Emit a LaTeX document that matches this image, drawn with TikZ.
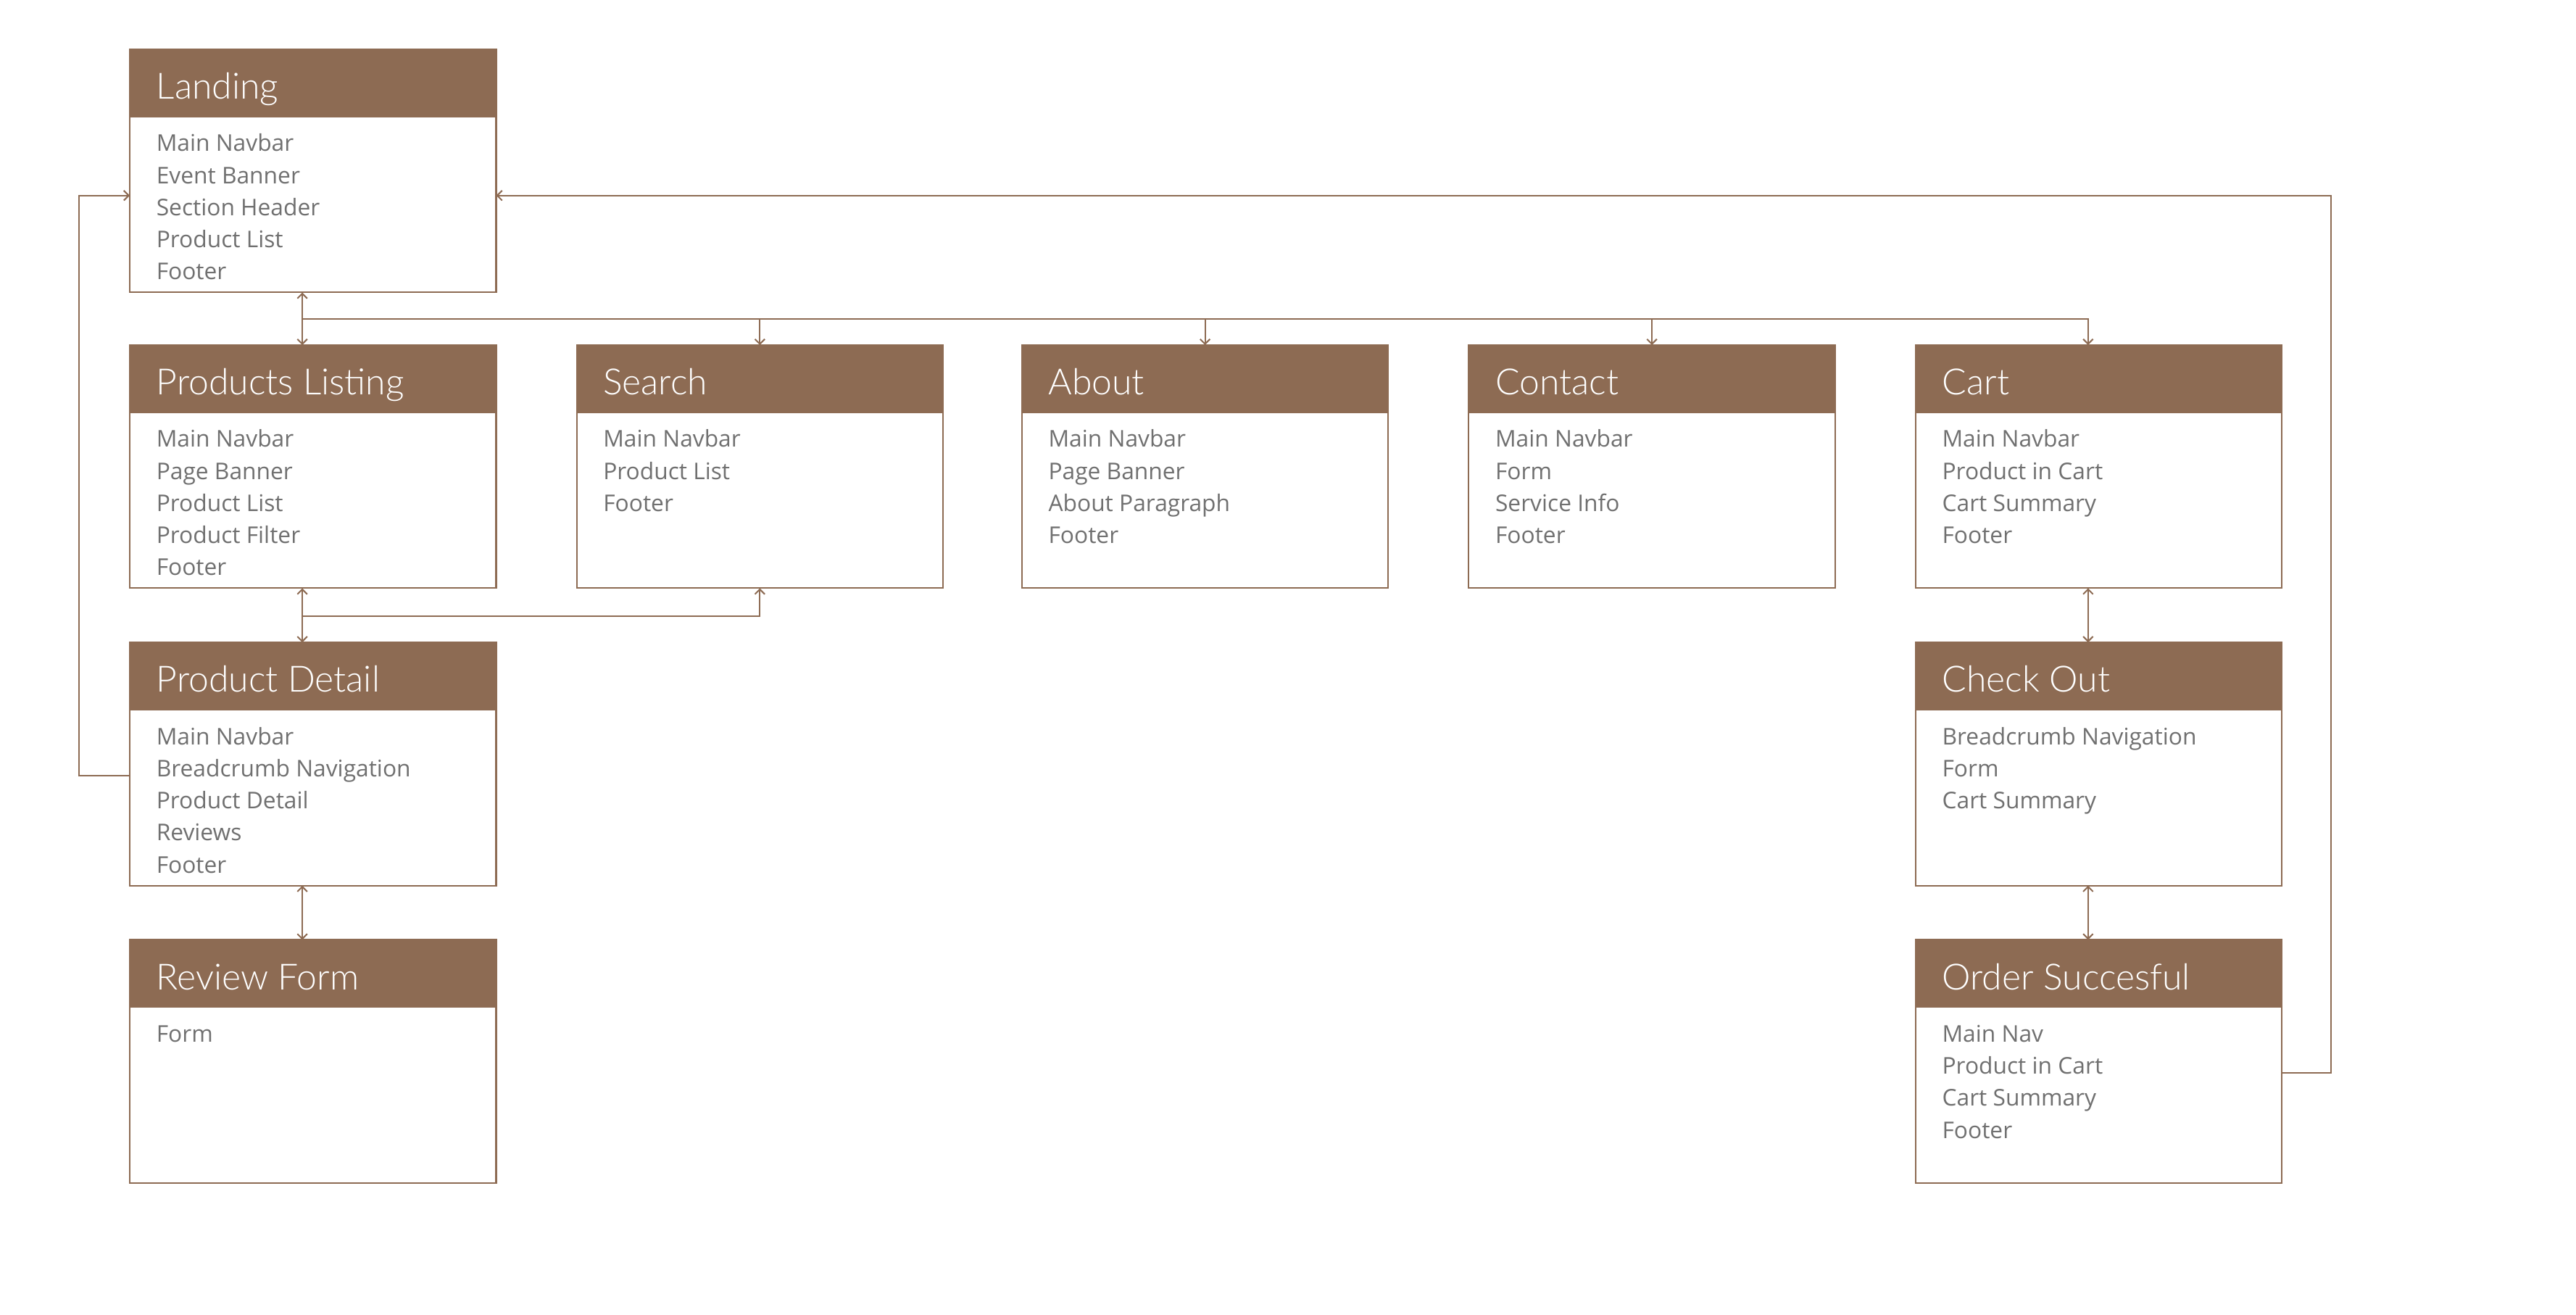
\documentclass[tikz,border=0pt]{standalone}
\usepackage{fontspec}
\setmainfont{Open Sans}
\newfontfamily\headfont{Lato Light}
\usetikzlibrary{arrows.meta}
\definecolor{brn}{HTML}{8D6B53}
\definecolor{txt}{HTML}{707070}
\tikzset{
 pagebox/.style={draw=brn, line width=0.9pt, minimum width=223pt, minimum height=148pt, anchor=north west, inner sep=0pt, outer sep=0pt},
 headbar/.style={fill=brn, draw=brn, line width=0.9pt, minimum width=223pt, minimum height=41pt, anchor=north west, inner sep=0pt, outer sep=0pt},
 ttl/.style={text=white, font=\headfont\fontsize{22}{26}\selectfont, anchor=base west, inner sep=0pt},
 itm/.style={text=txt, font=\fontsize{14}{19.5}\selectfont, anchor=base west, inner sep=0pt},
 link/.style={draw=brn, line width=0.9pt},
 arr/.style={-{Straight Barb[length=3pt,width=6pt]}},
 biarr/.style={{Straight Barb[length=3pt,width=6pt]}-{Straight Barb[length=3pt,width=6pt]}}
}
\newcommand\pbox[5]{%
 \node[pagebox] (#1) at (#2,-#3) {};
 \node[headbar] (#1-h) at (#2,-#3) {};
 \node[ttl] (#1-t) at ([xshift=16pt,yshift=-30.3pt]#1.north west) {#4};
 \foreach \itx [count=\k] in {#5} {
   \pgfmathsetmacro\yy{-62.2-(\k-1)*19.5}
   \node[itm] (#1-\k) at ([xshift=16pt,yshift=\yy pt]#1.north west) {\itx};
 }
}
\begin{document}
\begin{tikzpicture}[x=1pt,y=1pt]
\useasboundingbox (0,0) rectangle (1568,-800);
\fill[white] (0,0) rectangle (1568,-800);
\pbox{landing}{79}{30}{Landing}{Main Navbar,Event Banner,Section Header,Product List,Footer}
\pbox{plist}{79}{210}{Products Listing}{Main Navbar,Page Banner,Product List,Product Filter,Footer}
\pbox{search}{351}{210}{Search}{Main Navbar,Product List,Footer}
\pbox{about}{622}{210}{About}{Main Navbar,Page Banner,About Paragraph,Footer}
\pbox{contact}{894}{210}{Contact}{Main Navbar,Form,Service Info,Footer}
\pbox{cart}{1166}{210}{Cart}{Main Navbar,Product in Cart,Cart Summary,Footer}
\pbox{pdetail}{79}{391}{Product Detail}{Main Navbar,Breadcrumb Navigation,Product Detail,Reviews,Footer}
\pbox{checkout}{1166}{391}{Check Out}{Breadcrumb Navigation,Form,Cart Summary}
\pbox{review}{79}{572}{Review Form}{Form}
\pbox{order}{1166}{572}{Order Succesful}{Main Nav,Product in Cart,Cart Summary,Footer}
% connectors
\coordinate (bus) at (184,-194);
\coordinate (bus2) at (184,-375);
\draw[link,biarr] ([xshift=105pt]landing.south west) -- ([xshift=105pt]plist.north west);
\draw[link,arr] (bus) -| (search.north);
\draw[link,arr] (bus) -| (about.north);
\draw[link,arr] (bus) -| (contact.north);
\draw[link,arr] (bus) -| ([xshift=105pt]cart.north west);
\draw[link,biarr] ([xshift=105pt]plist.south west) -- ([xshift=105pt]pdetail.north west);
\draw[link,arr] (bus2) -| (search.south);
\draw[link,biarr] ([xshift=105pt]pdetail.south west) -- ([xshift=105pt]review.north west);
\draw[link,biarr] ([xshift=105pt]cart.south west) -- ([xshift=105pt]checkout.north west);
\draw[link,biarr] ([xshift=105pt]checkout.south west) -- ([xshift=105pt]order.north west);
\draw[link,arr] ([yshift=-81pt]pdetail.north west) -- ++(-31,0) |- ([yshift=-89pt]landing.north west);
\draw[link,arr] ([yshift=-81pt]order.north east) -- ++(30,0) |- ([yshift=-89pt]landing.north east);
\end{tikzpicture}
\end{document}
